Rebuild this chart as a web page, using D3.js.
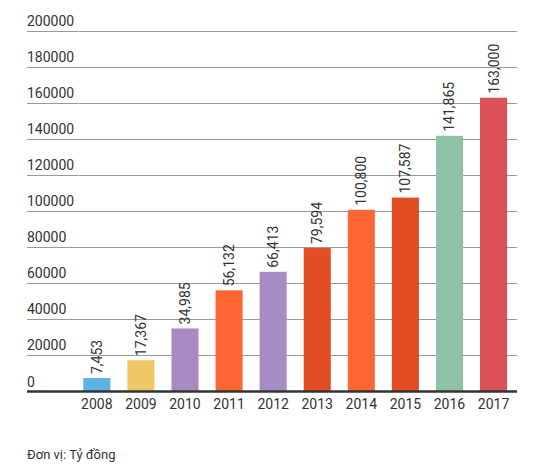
<!DOCTYPE html>
<html><head><meta charset="utf-8">
<script src="https://cdn.jsdelivr.net/npm/d3@7"></script>
<style>
html,body{margin:0;padding:0;background:#fff;}
svg{display:block;font-family:Roboto,"Open Sans",sans-serif;}
</style></head>
<body>
<svg id="chart" width="546" height="475"></svg>
<script>
const years = ["2008","2009","2010","2011","2012","2013","2014","2015","2016","2017"];
const values = [7453,17367,34985,56132,66413,79594,100800,107587,141865,163000];
const valueLabels = ["7,453","17,367","34,985","56,132","66,413","79,594","100,800","107,587","141,865","163,000"];
const colors = ["#5DB3E4","#EFC865","#A98BC4","#FF6633","#A98BC4","#E34D23","#FF6633","#E34D23","#8DC2A6","#DB5157"];
const yTicks = [0,20000,40000,60000,80000,100000,120000,140000,160000,180000,200000];
const unitNote = "Đơn vị: Tỷ đồng";

(function(){
const svg = d3.select("#chart");
const mLeft = 27, mRight = 517, mTop = 31, mBottom = 391.5;

const y = d3.scaleLinear().domain([0,200000]).range([mBottom, mTop]);
const x = d3.scaleBand().domain(years).range([74.8, 515.6]).paddingInner(0.386).paddingOuter(0.193);

const g = svg.append("g");
g.selectAll("line.grid").data(yTicks.filter(d=>d>0)).join("line")
  .attr("x1", mLeft).attr("x2", mRight)
  .attr("y1", d=>y(d)).attr("y2", d=>y(d))
  .attr("stroke", "#9a9a9a").attr("stroke-width", 1).attr("shape-rendering","crispEdges");
g.selectAll("text.tick").data(yTicks).join("text")
  .attr("x", mLeft).attr("y", d=>y(d)-5)
  .attr("font-size", 14).attr("fill", "#333")
  .text(d=>d);

svg.selectAll("rect.bar").data(values).join("rect")
  .attr("x", (d,i)=>x(years[i])).attr("width", x.bandwidth())
  .attr("y", d=>y(d)).attr("height", d=>mBottom - y(d))
  .attr("fill", (d,i)=>colors[i]);

svg.append("line").attr("x1", mLeft).attr("x2", mRight)
  .attr("y1", mBottom).attr("y2", mBottom)
  .attr("stroke", "#333").attr("stroke-width", 2.5);

svg.selectAll("text.val").data(values).join("text")
  .attr("transform", (d,i)=>`translate(${x(years[i]) + x.bandwidth()/2 + 5},${y(d)-4}) rotate(-90)`)
  .attr("font-size", 14).attr("fill", "#333")
  .text((d,i)=>valueLabels[i]);

svg.selectAll("text.yr").data(years).join("text")
  .attr("x", d=>x(d)+x.bandwidth()/2).attr("y", 409)
  .attr("text-anchor","middle").attr("font-size", 14).attr("fill", "#333")
  .text(d=>d);

svg.append("text").attr("x", mLeft).attr("y", 459)
  .attr("font-size", 13).attr("fill", "#333").text(unitNote);
})();
</script>
</body></html>
